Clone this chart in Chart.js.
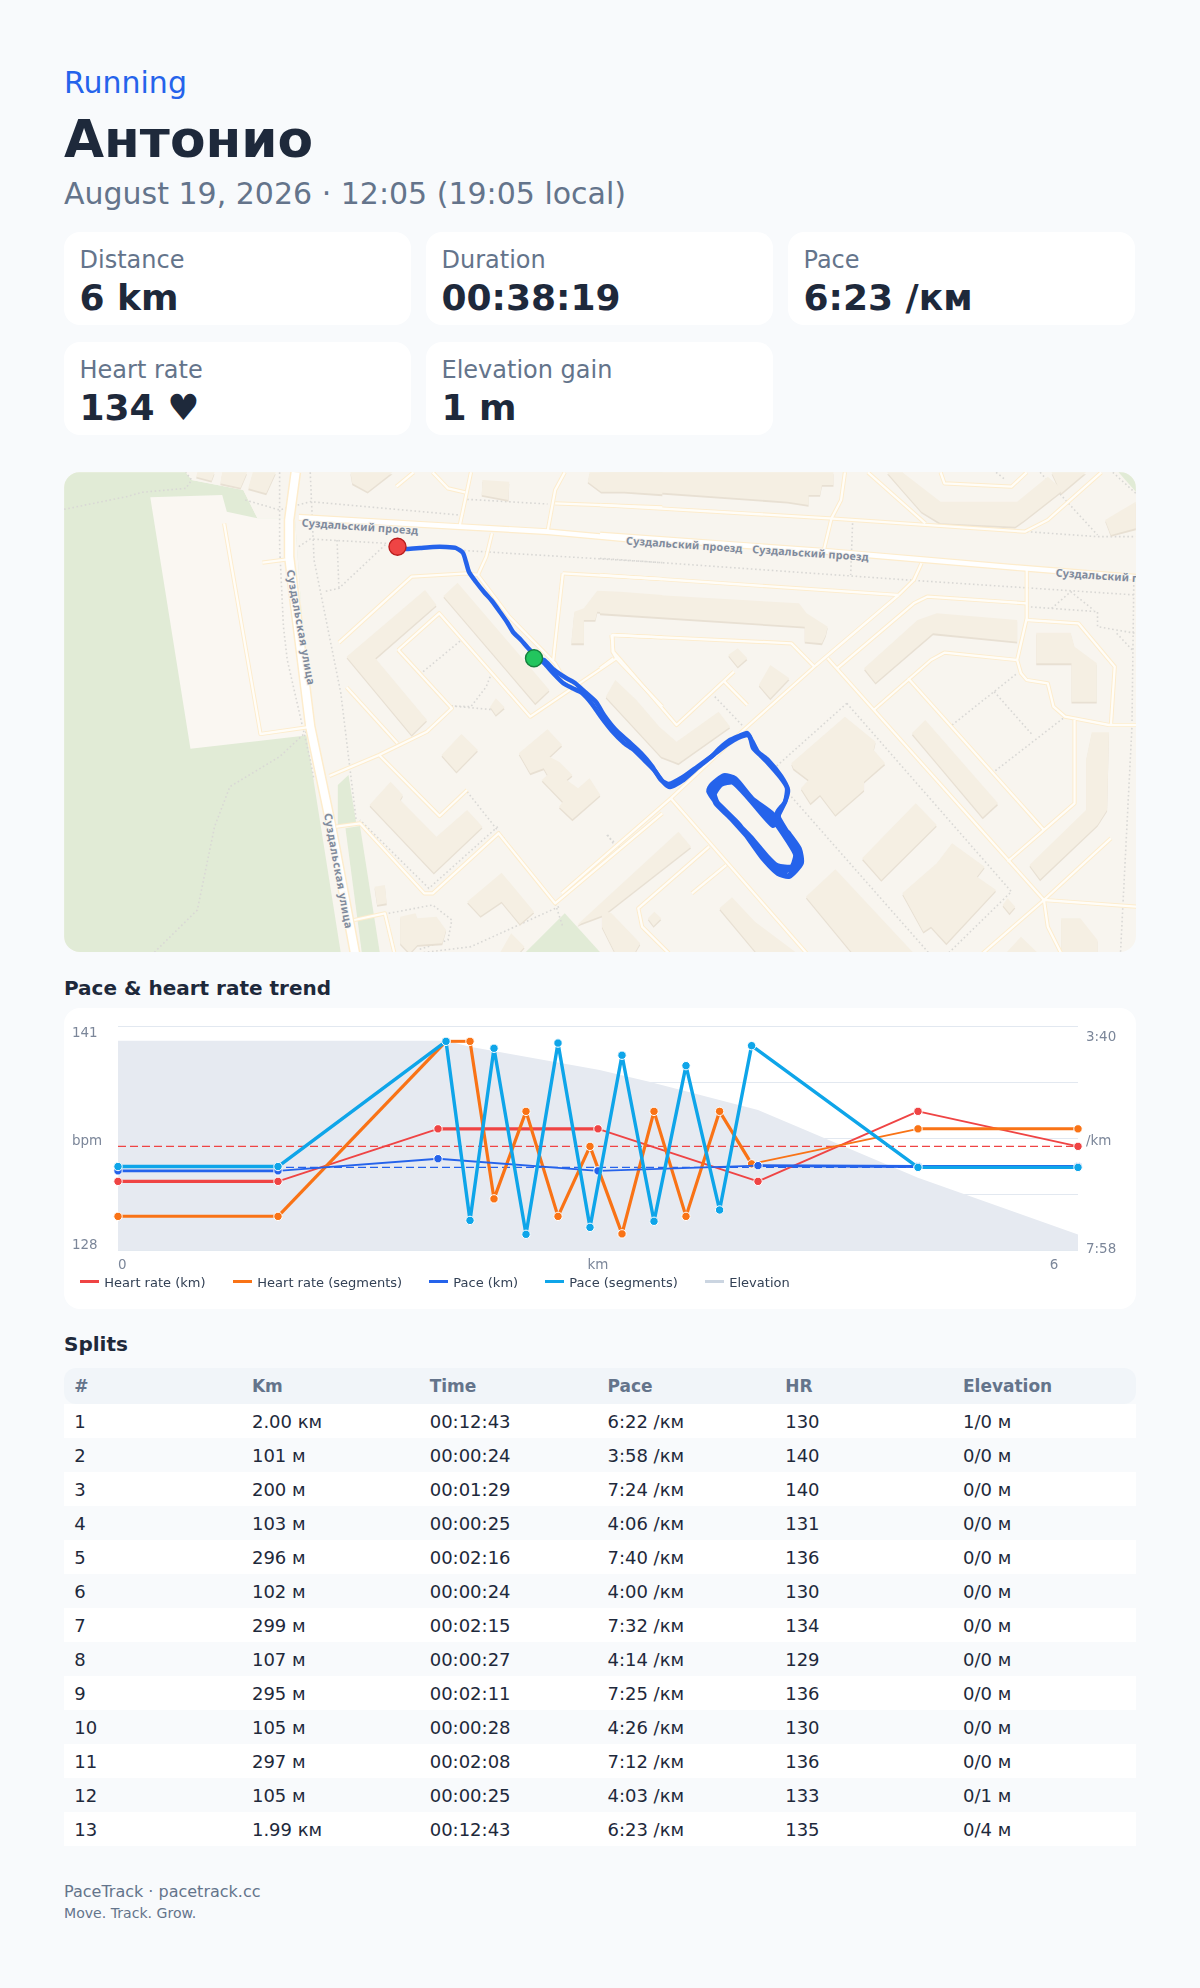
<!DOCTYPE html>
<html lang="en"><head><meta charset="utf-8"><title>Running</title>
<script src="https://cdn.jsdelivr.net/npm/chart.js@4/dist/chart.umd.min.js"></script>
<style>
*{box-sizing:border-box}
html,body{margin:0;padding:0;background:#f8fafc}
body{width:1200px;height:1988px;position:relative;overflow:hidden;font-family:"DejaVu Sans",sans-serif;color:#1e293b}
.a{position:absolute;white-space:nowrap}
.card{position:absolute;background:#fff;border-radius:16px;width:346.7px;height:93px}
.card .l{position:absolute;left:15.5px;top:11px;font-size:24px;line-height:34px;color:#64748b}
.card .v{position:absolute;left:15.5px;top:45px;font-size:36px;line-height:42px;font-weight:700;color:#1e293b}
#map{position:absolute;left:64px;top:472px;width:1072px;height:480px;border-radius:16px;overflow:hidden;background:#f8f5ef}
#map svg,#map canvas{position:absolute;left:0;top:0}
#chartCard{position:absolute;left:64px;top:1008px;width:1072px;height:301px;background:#fff;border-radius:16px}
#chartCard canvas{position:absolute;left:0;top:0}
.lg{position:absolute;top:1273px;font-size:13px;line-height:20px;color:#334155;white-space:nowrap}
.sw{position:absolute;top:1280px;height:3px;width:19px}
table{position:absolute;left:64px;top:1368px;width:1072px;border-collapse:separate;border-spacing:0;table-layout:fixed;font-size:18px}
th,td{padding:0 0 0 10.2px;text-align:left;height:34px;line-height:34px;width:177.75px}
th{height:36px;background:#f1f5f9;color:#64748b;font-weight:700;font-size:17px}
th:first-child{border-radius:12px 0 0 12px}th:last-child{border-radius:0 12px 12px 0;width:183.25px}
tr:nth-child(odd) td{background:#fff}tr:nth-child(even) td{background:#f8fafc}
td{color:#1e293b;padding-top:2px;line-height:32px}
</style></head><body>
<div class="a" style="left:64px;top:61px;font-size:30px;line-height:44px;color:#2563eb">Running</div>
<div class="a" style="left:64px;top:107px;font-size:51.8px;line-height:64px;font-weight:700;color:#1e293b">Антонио</div>
<div class="a" style="left:64px;top:173px;font-size:30px;line-height:42px;color:#64748b">August 19, 2026 · 12:05 (19:05 local)</div>
<div id="cards"></div>
<div id="map"><svg id="mapSvg" width="1072" height="480" viewBox="64 472 1072 480"></svg><canvas id="routeChart" width="1072" height="480" style="width:1072px;height:480px"></canvas></div>
<div class="a" style="left:64px;top:974px;font-size:20px;line-height:28px;font-weight:700;color:#1e293b">Pace &amp; heart rate trend</div>
<div id="chartCard"><canvas id="trendChart" width="1072" height="301" style="width:1072px;height:301px"></canvas></div>
<div id="legend"></div>
<div class="a" style="left:64px;top:1330px;font-size:20px;line-height:28px;font-weight:700;color:#1e293b">Splits</div>
<table id="splits"><thead><tr id="head"></tr></thead><tbody id="rows"></tbody></table>
<div class="a" style="left:64px;top:1879px;font-size:16px;line-height:26px;color:#64748b">PaceTrack · pacetrack.cc</div>
<div class="a" style="left:64px;top:1902px;font-size:14.08px;line-height:22px;color:#64748b">Move. Track. Grow.</div>
<script>
/* ---------- data ---------- */
const statLabels=["Distance","Duration","Pace","Heart rate","Elevation gain"];
const statValues=["6 km","00:38:19","6:23 /км","134 ♥","1 m"];

const splitHead=["#","Km","Time","Pace","HR","Elevation"];
const splitNum=["1","2","3","4","5","6","7","8","9","10","11","12","13"];
const splitDist=["2.00 км","101 м","200 м","103 м","296 м","102 м","299 м","107 м","295 м","105 м","297 м","105 м","1.99 км"];
const splitTime=["00:12:43","00:00:24","00:01:29","00:00:25","00:02:16","00:00:24","00:02:15","00:00:27","00:02:11","00:00:28","00:02:08","00:00:25","00:12:43"];
const splitPace=["6:22 /км","3:58 /км","7:24 /км","4:06 /км","7:40 /км","4:00 /км","7:32 /км","4:14 /км","7:25 /км","4:26 /км","7:12 /км","4:03 /км","6:23 /км"];
const splitHr=["130","140","140","131","136","130","134","129","136","130","136","133","135"];
const splitElev=["1/0 м","0/0 м","0/0 м","0/0 м","0/0 м","0/0 м","0/0 м","0/0 м","0/0 м","0/0 м","0/0 м","0/1 м","0/4 м"];

const kmX=[0,1,2,3,4,5,6];
const kmHr=[132,132,135,135,132,136,134];
const kmPace=[387,387,373,387,381,382,382];
const segX=[0,1,2.05,2.2,2.35,2.55,2.75,2.95,3.15,3.35,3.55,3.76,3.96,5,6];
const segHr=[130,130,140,140,131,136,130,134,129,136,130,136,133,135,135];
const segPace=[382,382,238,444,246,460,240,452,254,445,266,432,243,383,383];
const elevX=[0,2.05,2.2,3.01,3.32,4,5,6];
const elevM=[5,5,4.84,4.24,3.94,3.21,1.46,0];
const avgX=[0,6];
const avgHr=[134,134];
const avgPace=[383,383];
const leftTickLabels=["141","bpm","128"];
const leftTickAt=[140.45,134.3,128.34];
const rightTickLabels=["3:40","/km","7:58"];
const rightTickAt=[233.4,353,477.6];
const bottomTickLabels=["0","km","6"];
const bottomTickAt=[0.027,3,5.85];
const legendLabels=["Heart rate (km)","Heart rate (segments)","Pace (km)","Pace (segments)","Elevation"];

/* route, in picture pixels */
const routeX=[398,406,420,433,446,456,463,466,469,476,484,492,500,507,513,521,528,536,544,553,563,572,582,592,601,612,624,634,644,654,664,670,682,696,711,720,730,739,747,750,753,760,767,780,787,785,777,
788,799,801,789,778,763,739,717,709,712,724,735,752,772,
788,797,797,783,772,757,733,717,713,722,734,750,773,
789,796,792,777,767,750,728,716,714,721,733,749,773,
778,785,788,781,768,758,752,748,738,728,712,697,683,669,661,652,641,628,615,604,596,585,575,566,553,544,534];
const routeY=[547,549,548,547,547,548,553,562,572,582,592,601,612,622,632,640,648,656,663,673,683,688,693,704,717,731,743,750,760,770,783,787,781,769,757,748,740,736,733,737,748,755,762,777,788,802,813,
833,849,863,876,873,858,825,803,791,785,776,779,799,814,
837,852,865,871,865,847,820,803,789,780,780,798,819,
842,855,867,866,857,837,815,803,794,784,782,798,825,
816,802,790,776,760,752,741,735,738,744,756,767,777,784,780,766,753,741,729,715,702,692,683,678,669,660,658];
const startXY=[397.5,546.7];
const endXY=[534,658.3];
const mapLabelsH=["Суздальский проезд","Суздальский проезд","Суздальский проезд","Суздальский проезд"];
const mapLabelsV=["Суздальская улица","Суздальская улица"];

/* ---------- page blocks ---------- */
const cardPos=[[64,232],[426,232],[788,232],[64,342],[426,342]];
document.getElementById('cards').innerHTML=statLabels.map((l,i)=>`<div class="card" style="left:${cardPos[i][0]}px;top:${cardPos[i][1]}px"><div class="l">${l}</div><div class="v">${statValues[i]}</div></div>`).join('');
document.getElementById('head').innerHTML=splitHead.map(h=>`<th>${h}</th>`).join('');
document.getElementById('rows').innerHTML=splitNum.map((n,i)=>`<tr><td>${n}</td><td>${splitDist[i]}</td><td>${splitTime[i]}</td><td>${splitPace[i]}</td><td>${splitHr[i]}</td><td>${splitElev[i]}</td></tr>`).join('');
const lgColors=['#ef4444','#f97316','#2563eb','#0ea5e9','#cbd5e1'];
const lgSw=[80,233,429,545,705];
document.getElementById('legend').innerHTML=legendLabels.map((t,i)=>`<div class="sw" style="left:${lgSw[i]}px;background:${lgColors[i]}"></div><div class="lg" style="left:${lgSw[i]+24.3}px">${t}</div>`).join('');

/* ---------- base map (drawn as SVG scenery) ---------- */
const A=[50,460],B=[600,460];
const green=[
 [A,"37,37 355,37 370,60 505,90 542,175 640,175 680,825 670,825 760,1480 37,1480"],
 [A,"752,975 780,945 800,1088 752,1098"],[A,"772,1105 810,1098 862,1480 815,1480"],[A,"1240,1480 1345,1360 1440,1480"],
 [B,"1355,37 1400,37 1400,95"]];
const light=[[A,"262,112 450,105 462,155 542,175 640,175 680,825 367,866"]];
const bg2=[[A,"355,37 630,37 630,175 542,175 505,90 370,60"]];
const buildings=[
 [A,"385,37 430,37 422,62 382,50"],[A,"450,37 515,37 498,83 445,70"],[A,"530,37 590,37 565,100 518,85"],
 [A,"785,37 895,37 830,95 790,70"],[A,"1130,60 1200,65 1198,120 1128,105"],[A,"1410,37 1600,37 1600,103 1500,95 1440,95 1405,65"],
 [A,"980,390 1010,435 850,595 985,780 945,825 775,590"],[A,"1065,368 1305,690 1268,730 1028,408"],
 [A,"1430,392 1490,395 1600,405 1600,465 1480,460 1430,455 1425,480 1395,480 1395,550 1362,550 1370,455 1395,445"],
 [A,"1165,715 1188,742 1165,765 1150,740"],[A,"1075,822 1118,870 1062,935 1023,885"],
 [A,"1300,808 1338,855 1305,890 1330,905 1365,945 1350,960 1380,985 1410,955 1438,1005 1365,1078 1330,1040 1340,1025 1285,960 1300,945 1290,925 1255,940 1225,880"],
 [A,"890,965 922,1005 915,1020 1010,1130 1090,1050 1130,1100 1003,1238 835,1035"],[A,"848,1280 875,1275 880,1330 855,1335"],
 [A,"1180,1238 1265,1355 1228,1392 1180,1325 1125,1368 1090,1325"],
 [A,"915,1370 955,1360 960,1375 1010,1370 1035,1410 1025,1450 960,1455 940,1480 915,1450"],[A,"1205,1420 1240,1460 1225,1480 1175,1480"],
 [B,"0,37 610,37 610,75 580,75 575,105 545,105 545,135 490,125 0,85"],
 [B,"750,37 790,37 890,125 1090,125 1170,50 1210,90 1110,180 1085,200 890,190 840,155 790,90"],[B,"1180,37 1270,37 1205,100"],
 [B,"1320,180 1400,125 1400,205 1335,225"],
 [B,"0,395 520,430 540,460 595,500 590,525 580,550 535,545 535,500 0,460"],[B,"335,585 360,565 385,595 360,620"],[B,"445,615 495,655 445,715 415,675"],
 [B,"40,660 95,720 155,800 200,845 310,755 340,800 205,910 160,890 15,710"],
 [B,"690,625 830,480 880,460 1090,480 1090,545 870,520 720,668"],[B,"1140,518 1230,518 1240,560 1298,610 1298,725 1232,725 1232,610 1140,610"],
 [B,"500,910 640,770 720,845 715,870 745,910 690,965 690,990 615,1065 575,1005 550,1030 525,985 545,960 505,925"],
 [B,"850,780 1040,1030 1000,1072 815,820"],[B,"825,1030 880,1095 735,1260 685,1195"],
 [B,"920,1150 1005,1220 985,1250 1035,1290 905,1450 865,1400 845,1415 790,1300 880,1210"],
 [B,"615,1228 820,1480 660,1480 538,1310"],[B,"345,1312 405,1385 515,1480 410,1480 312,1345"],
 [B,"142,1355 160,1375 140,1398 125,1375"],[B,"1065,1315 1085,1340 1070,1360 1052,1335"],
 [B,"1285,817 1330,817 1325,1050 1300,1095 1150,1258 1122,1215 1270,1050 1270,900"],
 [B,"1205,1375 1255,1375 1300,1440 1300,1480 1205,1480"],[B,"5,1350 30,1360 105,1450 90,1480 40,1480 5,1400"],
 [B,"-60,1395 205,1115 238,1160 10,1365"],[B,"1100,1430 1145,1480 1060,1480"]];
const dotted=[
 [A,"37,148 200,110 240,97 355,85 370,60 355,37"],[A,"510,120 600,150 680,125 1070,165"],[A,"600,37 600,260 610,500 620,600 680,900 690,960"],
 [A,"680,37 690,300 760,700 800,1080"],[A,"650,260 680,237 880,250 755,385 715,395"],[A,"750,240 755,385"],[A,"1060,270 1600,308"],
 [A,"975,635 1075,540"],[A,"1150,650 1140,680 1100,740 1050,738 1165,750"],[A,"1090,995 1320,1330 1340,1400"],[A,"1170,1100 990,1285 810,1080"],
 [A,"1455,1125 1490,1165"],[A,"885,1360 1000,1335 1050,1380 1040,1440 960,1470"],[A,"670,815 600,890 470,980 430,1100 385,1350 270,1480"],
 [A,"1330,1340 1100,1460 960,1480"],[A,"1090,118 1300,132"],
 [B,"660,190 655,345"],[B,"645,730 1075,1295 910,1480"],[B,"645,730 450,930"],[B,"300,710 375,800"],[B,"500,1010 860,1480"],[B,"20,1125 40,1160"],
 [B,"1115,215 1300,230 1400,230"],[B,"0,295 830,362 1400,405"],[B,"1115,440 1300,455 1300,500 1400,520"],[B,"1180,445 1230,395 1290,450"],
 [B,"1035,37 1060,60"],[B,"1150,37 1300,225"],[B,"1340,37 1400,100"],[B,"1395,350 1390,800 1360,1480"],[B,"920,795 1090,640"],[B,"1030,695 1130,825"],[B,"1210,775 1030,935"],[B,"1350,520 1395,575"]];
const roadsSmall=[
 [A,"1100,37 1070,200"],[A,"1000,37 1040,85 1085,97"],[A,"950,37 905,80"],[A,"1345,37 1320,90 1300,215"],[A,"1320,130 1600,142"],[A,"555,308 620,298"],
 [A,"1155,220 1140,290 1118,345"],[A,"755,548 945,350 1090,340 1118,345 1200,470 1320,610 1350,670"],[A,"1340,340 1600,357"],[A,"1340,340 1315,600"],
 [A,"775,682 908,850"],[A,"910,570 1017,460 1255,770 1480,595"],[A,"910,570 1050,745 985,815 860,885 730,948"],[A,"860,885 1018,1068 1090,990"],
 [A,"455,190 550,822 685,800"],[A,"748,1100 810,1090 978,1300 1000,1300 1172,1120 1320,1330 1600,1060"],[A,"795,1380 875,1360 900,1480"],
 [A,"1470,525 1600,532"],[A,"1470,525 1470,575 1480,595 1600,740"],
 [B,"0,135 600,175 1110,215 1170,180 1310,37"],[B,"0,345 780,405"],[B,"30,525 500,550 560,620"],[B,"30,525 35,575 200,795 350,635"],[B,"325,665 385,735"],[B,"35,595 0,625"],
 [B,"780,405 565,615 375,810 185,1015 -100,1300"],[B,"185,1015 540,1480"],[B,"595,595 1160,1320"],[B,"620,625 820,430 855,410 1115,430"],
 [B,"1115,330 1115,475 1090,600 1100,640 1115,660 1170,670 1185,740 1215,770 1330,795 1405,795"],[B,"1115,480 1250,490 1345,620 1335,795"],
 [B,"715,750 865,600 900,578 1090,600"],[B,"805,655 1160,1110"],[B,"1240,780 1240,1030 1065,1205"],[B,"1335,1135 1160,1320 1405,1340"],[B,"1160,1320 1000,1480"],
 [B,"1160,1320 1170,1400 1205,1480"],[B,"285,1160 100,1345 110,1400 180,1480"],[B,"330,1215 240,1300"],[B,"840,310 820,360 780,405"],[B,"605,175 585,270"],
 [B,"640,37 630,120 605,175"],[B,"700,37 850,190"],[B,"890,37 900,70 1075,80 1115,37"]];
const roadsMid=[[A,"650,172 1070,200 1300,215 1600,247"],[B,"0,225 600,275 1110,325 1405,352"]];
const roadsBig=[[A,"642,37 625,180 625,290 680,800 735,1100 797,1480"]];
const tf=o=>`translate(${o[0]},${o[1]}) scale(${1/2.613},${1/3})`;
let svg='';
const poly=(list,attr)=>list.map(([o,p])=>`<polygon transform="${tf(o)}" points="${p}" ${attr}/>`).join('');
const line=(list,attr)=>list.map(([o,p])=>`<polyline transform="${tf(o)}" points="${p}" fill="none" stroke-linejoin="round" vector-effect="non-scaling-stroke" ${attr}/>`).join('');
svg+=poly(green,'fill="#e1ebd6"')+poly(bg2,'fill="#f8f5ef"')+poly(light,'fill="#faf7f2"');
svg+=line(dotted,'stroke="#d9d8d5" stroke-width="1.6" stroke-dasharray="1.6 2.6"');
svg+=`<g transform="translate(0,1.8)">`+poly(buildings,'fill="#e8e0d3"')+`</g>`+poly(buildings,'fill="#f5efe3"');
svg+=line(roadsSmall,'stroke="#fdeccc" stroke-width="4.2"')+line(roadsMid,'stroke="#fdeccc" stroke-width="7"')+line(roadsBig,'stroke="#fdeccc" stroke-width="11"');
svg+=line(roadsSmall,'stroke="#fffdf8" stroke-width="2.3"')+line(roadsMid,'stroke="#fff" stroke-width="4.6"')+line(roadsBig,'stroke="#fff" stroke-width="8"');
const lblStyle='font-family="Noto Sans" font-weight="700" font-size="10.8" fill="#7f8a9c" stroke="#f8f5ef" stroke-width="2" paint-order="stroke"';
const hPos=[[360,526],[684.4,544],[810.5,552.5],[1114,576]];
hPos.forEach((p,i)=>{svg+=`<text text-anchor="middle" dominant-baseline="central" letter-spacing=".15" x="${p[0]}" y="${p[1]}" transform="rotate(4 ${p[0]} ${p[1]})" ${lblStyle}>${mapLabelsH[i]}</text>`});
const vPos=[[301.5,627.5],[339,871]];
vPos.forEach((p,i)=>{svg+=`<text text-anchor="middle" dominant-baseline="central" letter-spacing=".67" x="${p[0]}" y="${p[1]}" transform="rotate(79.6 ${p[0]} ${p[1]})" ${lblStyle}>${mapLabelsV[i]}</text>`});
document.getElementById('mapSvg').innerHTML=svg;

/* ---------- route chart ---------- */
new Chart(document.getElementById('routeChart'),{type:'scatter',data:{datasets:[
 {data:[{x:startXY[0],y:startXY[1]}],pointRadius:8.5,pointBackgroundColor:'#ef4444',pointBorderColor:'#b91c1c',pointBorderWidth:1.4,clip:false},
 {data:[{x:endXY[0],y:endXY[1]}],pointRadius:8.5,pointBackgroundColor:'#22c55e',pointBorderColor:'#15803d',pointBorderWidth:1.4,clip:false},
 {data:routeX.map((x,i)=>({x,y:routeY[i]})),showLine:true,borderColor:'#2563eb',borderWidth:4.5,pointRadius:0,tension:0.2,borderJoinStyle:'round',borderCapStyle:'round',
  segment:{borderWidth:c=>(c.p0DataIndex>=47&&c.p0DataIndex<87)?5.8:4.5}}
]},options:{responsive:false,animation:false,events:[],layout:{padding:0,autoPadding:false},
 plugins:{legend:{display:false},tooltip:{enabled:false}},
 scales:{x:{type:'linear',display:false,min:64,max:1136},y:{type:'linear',display:false,min:472,max:952,reverse:true}}}});

/* ---------- trend chart ---------- */
const pts=(xs,ys)=>xs.map((x,i)=>({x,y:ys[i]}));
const segW=(flat,shallow,steep)=>({borderWidth:c=>{
  const dy=Math.abs(c.p1.y-c.p0.y),dx=Math.abs(c.p1.x-c.p0.x)||1,s=dy/dx;
  return s<0.02?flat:(s<0.5?shallow:steep);}});
const series=(label,xs,ys,axis,color,order,w)=>({label,data:pts(xs,ys),yAxisID:axis,borderColor:color,backgroundColor:color,borderWidth:w[2],
  segment:segW(...w),pointRadius:4.2,pointBorderWidth:1,pointBorderColor:'#fff',pointBackgroundColor:color,tension:0,order,clip:false,borderJoinStyle:'round'});
const tickFont={family:'"DejaVu Sans"',size:13.44};
const tickColor='#7b8699';
function placed(at){return s=>{s.ticks=at.map(v=>({value:v}));}}
const lab=(at,labels)=>v=>{const i=at.indexOf(v);return i<0?'':labels[i];};
new Chart(document.getElementById('trendChart'),{type:'line',data:{datasets:[
 series(legendLabels[3],segX,segPace,'pace','#0ea5e9',0,[3.4,3.2,3.4]),
 series(legendLabels[2],kmX,kmPace,'pace','#2563eb',1,[2.8,1.9,1.9]),
 series(legendLabels[1],segX,segHr,'hr','#f97316',2,[3,1.9,3.2]),
 series(legendLabels[0],kmX,kmHr,'hr','#ef4444',3,[3.2,1.9,1.9]),
 {label:'avg pace',data:pts(avgX,avgPace),yAxisID:'pace',borderColor:'#2563eb',borderWidth:1.2,borderDash:[8,4],pointRadius:0,order:4},
 {label:'avg hr',data:pts(avgX,avgHr),yAxisID:'hr',borderColor:'#ef4444',borderWidth:1.2,borderDash:[8,4],pointRadius:0,order:4},
 {label:legendLabels[4],data:pts(elevX,elevM),yAxisID:'elev',borderWidth:0,borderColor:'transparent',backgroundColor:'#e6eaf1',fill:'start',pointRadius:0,tension:0,order:6}
]},options:{responsive:false,animation:false,events:[],
 layout:{padding:{left:8,top:18.33,right:0,bottom:0},autoPadding:false},
 plugins:{legend:{display:false},tooltip:{enabled:false}},
 scales:{
  x:{type:'linear',min:0,max:6,grid:{display:false,drawTicks:false},border:{display:false},
     afterBuildTicks:placed(bottomTickAt),afterFit:s=>{s.height=58.33},
     ticks:{autoSkip:false,maxRotation:0,padding:7,font:tickFont,color:tickColor,callback:lab(bottomTickAt,bottomTickLabels)}},
  hr:{type:'linear',position:'left',min:128.04,max:140.857,grid:{display:false,drawTicks:false},border:{display:false},
     afterBuildTicks:placed(leftTickAt),afterFit:s=>{s.width=46},
     ticks:{autoSkip:false,crossAlign:'far',font:tickFont,color:tickColor,callback:lab(leftTickAt,leftTickLabels)}},
  elev:{type:'linear',position:'left',min:-0.42,max:5.37,border:{display:false},
     grid:{color:'#e2e8f0',lineWidth:1,drawTicks:false},afterFit:s=>{s.width=0},
     ticks:{display:false,count:5}},
  pace:{type:'linear',position:'right',reverse:true,min:220.75,max:478.8,grid:{display:false,drawTicks:false},border:{display:false},
     afterBuildTicks:placed(rightTickAt),afterFit:s=>{s.width=58},
     ticks:{autoSkip:false,padding:8,font:tickFont,color:tickColor,callback:lab(rightTickAt,rightTickLabels)}}
 }}});
</script>
</body></html>
